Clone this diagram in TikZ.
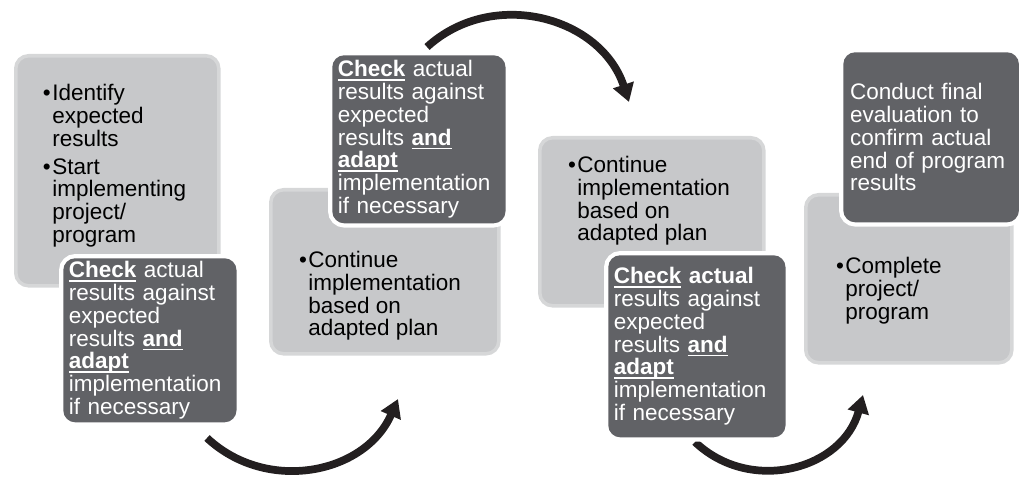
\documentclass[tikz,border=0pt]{standalone}
\usepackage{fontspec}
\setmainfont{Liberation Sans}
\usetikzlibrary{arrows.meta}

\definecolor{boxlight}{HTML}{C7C8CA}
\definecolor{boxedge}{HTML}{D6D7D8}
\definecolor{boxdark}{HTML}{616266}
\definecolor{arrowblack}{HTML}{231F20}

\newsavebox{\ulbox}
\newcommand{\ulbf}[1]{\leavevmode\sbox{\ulbox}{\textbf{#1}}\rlap{\rule[-2.8pt]{\wd\ulbox}{1.1pt}}\usebox{\ulbox}}
\newcommand{\boxfont}{\fontsize{16pt}{16.2pt}\selectfont}
\newcommand{\itembullet}{\llap{\textbullet\hspace{1pt}}}

\tikzset{
  lightbox/.style={draw=boxedge, line width=2.5pt, fill=boxlight, rounded corners=0.32cm, anchor=north west},
  darkbox/.style={fill=boxdark, rounded corners=0.3cm, preaction={draw=white, line width=6pt},
    anchor=north west, text=white, align=left, inner xsep=0.14cm, inner ysep=0pt, font=\boxfont},
  boxtext/.style={anchor=north west, inner sep=0pt, align=left, font=\boxfont},
  bigarrow/.style={line width=5.5pt, arrowblack, -{Triangle[length=0.45cm,width=0.52cm]}},
}

\begin{document}
\begin{tikzpicture}[x=0.025cm, y=-0.025cm]
                    \useasboundingbox (0,0) rectangle (1024,477);
                    % Turn arrows
                    \coordinate (turn1a) at (207,438);
                    \coordinate (turn1b) at (398,399);
                    \coordinate (turn2a) at (427,47);
                    \coordinate (turn2b) at (629,102);
                    \coordinate (turn3a) at (695,442);
                    \coordinate (turn3b) at (863,395);
                    \draw[bigarrow] (turn1a) .. controls (267,494) and (365,474) .. (turn1b);
                    \draw[bigarrow] (turn2a) .. controls (493,-13) and (601,17) .. (turn2b);
                    \draw[bigarrow] (turn3a) .. controls (751,495) and (843,469) .. (turn3b);
                    % Stage 1
                    \node[lightbox, minimum width=5.075cm, minimum height=5.75cm] (start) at (14,54) {};
                    \node[boxtext] (startText) at (52,84) {\itembullet Identify\\expected\\results\\[3.7pt]\itembullet Start\\implementing\\project/\\program};
                    \node[darkbox, minimum width=4.325cm, minimum height=4.1cm, text width=4.05cm] (check1) at (63,258)
                        {\ulbf{Check} actual\\results against\\expected\\results \ulbf{and}\\\ulbf{adapt}\\implementation\\if necessary};
                    % Stage 2
                    \node[lightbox, minimum width=5.7cm, minimum height=4.1cm] (cont1) at (269,188) {};
                    \node[boxtext] (cont1Text) at (308,251) {\itembullet Continue\\implementation\\based on\\adapted plan};
                    \node[darkbox, minimum width=4.325cm, minimum height=4.2cm, text width=4.05cm] (check2) at (332,55)
                        {\ulbf{Check} actual\\results against\\expected\\results \ulbf{and}\\\ulbf{adapt}\\implementation\\if necessary};
                    % Stage 3
                    \node[lightbox, minimum width=5.6cm, minimum height=4.2cm] (cont2) at (538,136) {};
                    \node[boxtext] (cont2Text) at (577,156) {\itembullet Continue\\implementation\\based on\\adapted plan};
                    \node[darkbox, minimum width=4.425cm, minimum height=4.55cm, text width=4.15cm] (check3) at (608,255)
                        {\ulbf{Check} \textbf{actual}\\results against\\expected\\results \ulbf{and}\\\ulbf{adapt}\\implementation\\if necessary};
                    % Stage 4
                    \node[lightbox, minimum width=5.15cm, minimum height=4.2cm] (finish) at (804,193) {};
                    \node[boxtext] (finishText) at (845,257) {\itembullet Complete\\project/\\program};
                    \node[darkbox, minimum width=4.375cm, minimum height=4.25cm, text width=4.05cm, inner xsep=0.17cm] (final) at (843,52)
                        {Conduct final\\evaluation to\\confirm actual\\end of program\\results};
                \end{tikzpicture}
\end{document}
